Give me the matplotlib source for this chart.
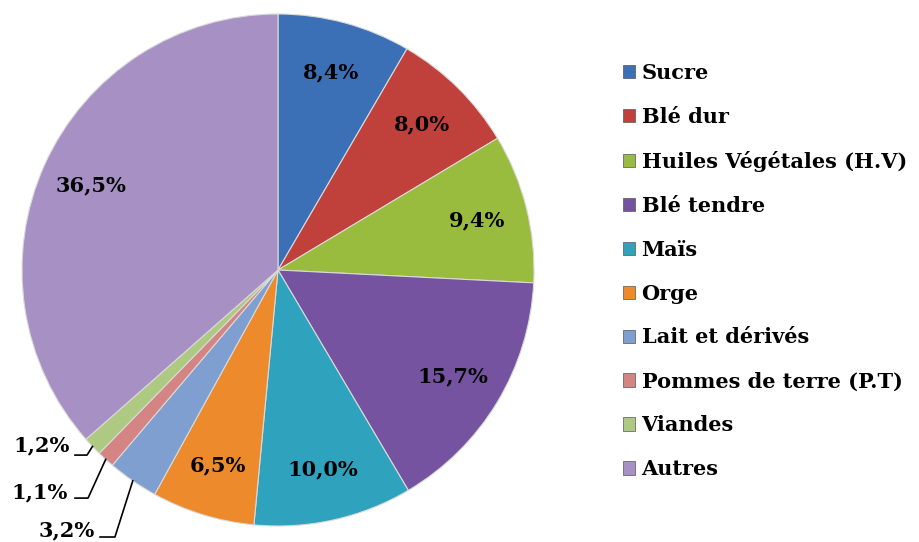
import matplotlib.pyplot as plt
import numpy as np
from matplotlib.patches import Patch

# Parts de chaque produit (%)
categories = ["Sucre", "Blé dur", "Huiles Végétales (H.V)", "Blé tendre", "Maïs",
              "Orge", "Lait et dérivés", "Pommes de terre (P.T)", "Viandes", "Autres"]
values = [8.4, 8.0, 9.4, 15.7, 10.0, 6.5, 3.2, 1.1, 1.2, 36.5]
labels = ["8,4%", "8,0%", "9,4%", "15,7%", "10,0%", "6,5%", "3,2%", "1,1%", "1,2%", "36,5%"]
colors = ["#3B70B6", "#C0403B", "#99BB3E", "#7653A1", "#2FA2BE",
          "#EC8A2C", "#7E9FCF", "#D48583", "#AECA82", "#A791C4"]

# petites parts : étiquettes sorties avec un trait de rappel
outside = {
    "1,2%": ((-0.8125, -0.684), [(-0.793, -0.723), (-0.746, -0.723)]),
    "1,1%": ((-0.820, -0.867), [(-0.793, -0.891), (-0.742, -0.891)]),
    "3,2%": ((-0.715, -1.016), [(-0.695, -1.043), (-0.637, -1.043)]),
}

font = "DejaVu Serif"

fig = plt.figure(figsize=(9.19, 5.42), dpi=100)
ax = fig.add_axes([22 / 919, 16 / 542, 512 / 919, 512 / 542])

wedges, _ = ax.pie(values, colors=colors, startangle=90, counterclock=False,
                   radius=1.0, wedgeprops=dict(edgecolor="#d9d9d9", linewidth=0.8))
ax.set_xlim(-1, 1)
ax.set_ylim(-1, 1)

for w, lab in zip(wedges, labels):
    mid = np.deg2rad((w.theta1 + w.theta2) / 2)
    if lab in outside:
        (tx, ty), elbow = outside[lab]
        ex, ey = np.cos(mid), np.sin(mid)
        xs = [elbow[0][0], elbow[1][0], ex]
        ys = [elbow[0][1], elbow[1][1], ey]
        ax.plot(xs, ys, color="black", lw=1.2, clip_on=False)
        ax.text(tx, ty, lab, ha="right", va="center", fontsize=15,
                fontweight="bold", family=font, clip_on=False)
    else:
        r = 0.8
        ax.text(r * np.cos(mid), r * np.sin(mid), lab, ha="center", va="center",
                fontsize=15, fontweight="bold", family=font)

handles = [Patch(facecolor=c, edgecolor="#555555", linewidth=0.5) for c in colors]
fig.legend(handles, categories, loc="upper left", bbox_to_anchor=(604 / 919, 1 - 44 / 542),
           frameon=False, prop=dict(family=font, weight="bold", size=15),
           handlelength=0.6, handleheight=0.6, handletextpad=0.3, labelspacing=1.15)

fig.savefig("out.png", dpi=100)
